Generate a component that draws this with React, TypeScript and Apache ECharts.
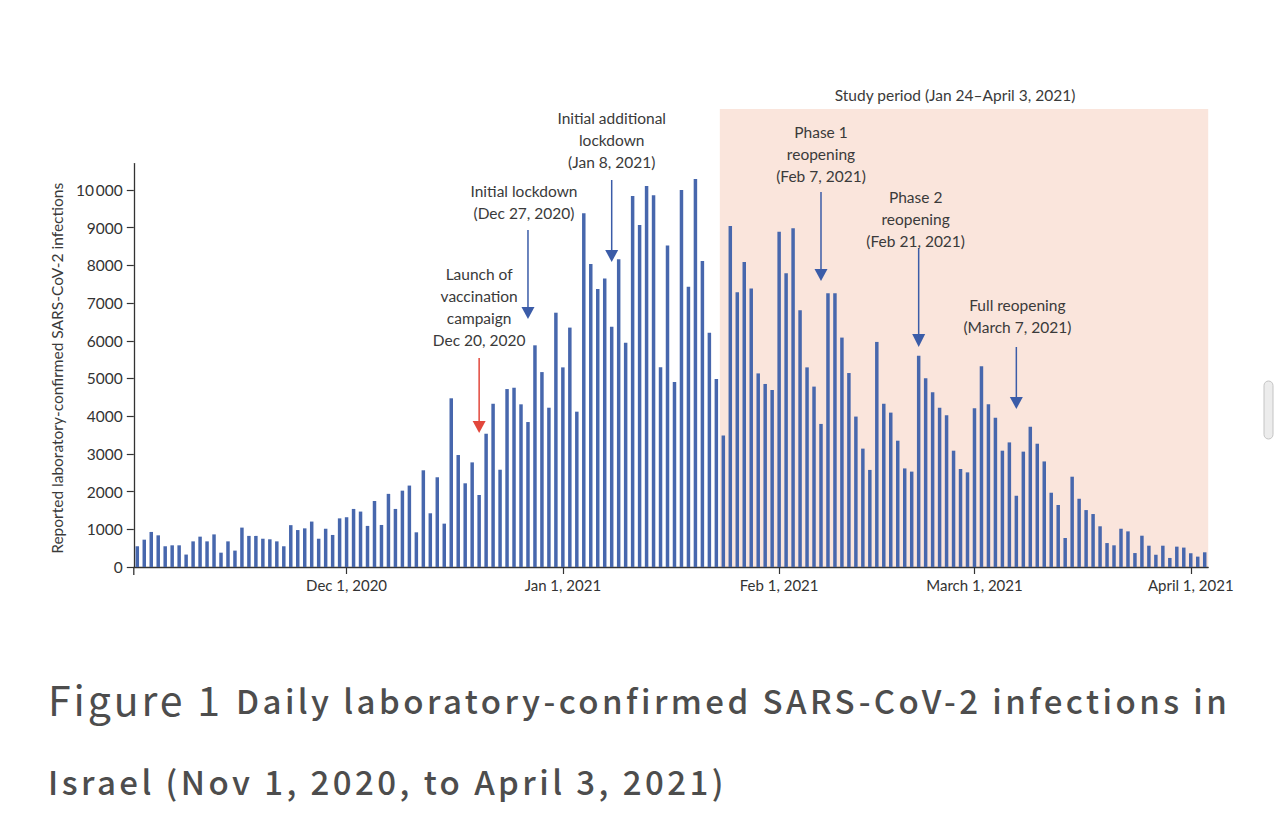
import React, { useEffect, useRef } from "react";
import * as echarts from "echarts";

// Daily laboratory-confirmed SARS-CoV-2 infections, Israel, Nov 1 2020 – Apr 3 2021
const novCases = [550, 725, 930, 840, 550, 575, 575, 330, 680, 805, 680, 865, 380, 680, 435, 1045, 825, 825, 750, 735, 680, 550, 1110, 980, 1025, 1205, 750, 1015, 850, 1290];
const decCases = [1320, 1540, 1470, 1090, 1750, 1115, 1940, 1540, 2025, 2160, 920, 2565, 1425, 2380, 1150, 4475, 2970, 2220, 2775, 1910, 3535, 4330, 2580, 4720, 4755, 4315, 3845, 5880, 5170, 4225, 6745];
const janCases = [5295, 6350, 4120, 9380, 8035, 7375, 7655, 6375, 8160, 5950, 9840, 9070, 10105, 9860, 5295, 8525, 4905, 10000, 7435, 10290, 8115, 6215, 4985, 3490, 9045, 7285, 8090, 7385, 5135, 4855, 4695];
const febCases = [8895, 7790, 8985, 6810, 5295, 4785, 3795, 7260, 7260, 6085, 5145, 3990, 3140, 2575, 5970, 4330, 4095, 3350, 2615, 2530, 5600, 5005, 4635, 4225, 4025, 3085, 2600, 2510];
const marCases = [4210, 5325, 4315, 3960, 3085, 3305, 1890, 3060, 3720, 3270, 2800, 1970, 1645, 770, 2395, 1810, 1510, 1405, 1080, 635, 575, 1015, 945, 370, 830, 565, 325, 565, 240, 540, 515];
const aprCases = [365, 275, 390];

const monthBlocks = [
  { year: 2020, month: 11, values: novCases },
  { year: 2020, month: 12, values: decCases },
  { year: 2021, month: 1, values: janCases },
  { year: 2021, month: 2, values: febCases },
  { year: 2021, month: 3, values: marCases },
  { year: 2021, month: 4, values: aprCases },
];

const pad = (n: number) => (n < 10 ? "0" + n : "" + n);
const categories: string[] = [];
const dailyCases: number[] = [];
monthBlocks.forEach((b) => {
  b.values.forEach((v, i) => {
    categories.push(`${b.year}-${pad(b.month)}-${pad(i + 1)}`);
    dailyCases.push(v);
  });
});

const xTickLabels: Record<string, string> = {
  "2020-12-01": "Dec 1, 2020",
  "2021-01-01": "Jan 1, 2021",
  "2021-02-01": "Feb 1, 2021",
  "2021-03-01": "March 1, 2021",
  "2021-04-01": "April 1, 2021",
};
const yTickValues = [0, 1000, 2000, 3000, 4000, 5000, 6000, 7000, 8000, 9000, 10000];

const studyStart = "2021-01-24";
const studyEnd = "2021-04-03";
const studyLabel = "Study period (Jan 24\u2013April 3, 2021)";

const events = [
  { date: "2020-12-20", lines: ["Launch of", "vaccination", "campaign", "Dec 20, 2020"], kind: "vaccine" },
  { date: "2020-12-27", lines: ["Initial lockdown", "(Dec 27, 2020)"], kind: "policy" },
  { date: "2021-01-08", lines: ["Initial additional", "lockdown", "(Jan 8, 2021)"], kind: "policy" },
  { date: "2021-02-07", lines: ["Phase 1", "reopening", "(Feb 7, 2021)"], kind: "policy" },
  { date: "2021-02-21", lines: ["Phase 2", "reopening", "(Feb 21, 2021)"], kind: "policy" },
  { date: "2021-03-07", lines: ["Full reopening", "(March 7, 2021)"], kind: "policy" },
];

const yAxisTitle = "Reported laboratory-confirmed SARS-CoV-2 infections";
const captionHead = "Figure 1";
const captionLine1 = "Daily laboratory-confirmed SARS-CoV-2 infections in";
const captionLine2 = "Israel (Nov 1, 2020, to April 3, 2021)";

// layout (pixels) for annotations
const eventLayout: Record<string, { textY: number; lineTop: number; headTop: number; tip: number; dx: number }> = {
  "2020-12-20": { textY: 274, lineTop: 358, headTop: 421, tip: 433, dx: 0 },
  "2020-12-27": { textY: 191, lineTop: 230, headTop: 307, tip: 319, dx: -4 },
  "2021-01-08": { textY: 118, lineTop: 180, headTop: 250, tip: 262, dx: 0 },
  "2021-02-07": { textY: 132, lineTop: 192, headTop: 269, tip: 281, dx: 0 },
  "2021-02-21": { textY: 197, lineTop: 248, headTop: 334, tip: 347, dx: -3 },
  "2021-03-07": { textY: 305, lineTop: 347, headTop: 397, tip: 409, dx: 1 },
};

const AXIS = "#333333";
const BAR = "#4767ad";
const BLUE_ARROW = "#3b5ca8";
const RED_ARROW = "#e2473c";
const SHADE = "#fae5dc";
const TXT = "#3a3a3a";
const LATO = "Lato, 'Noto Sans', sans-serif";
const CJK = "'Noto Sans CJK JP', 'Noto Sans', sans-serif";

export default function App() {
  const ref = useRef<HTMLDivElement>(null);

  useEffect(() => {
    if (!ref.current) return;
    const chart = echarts.init(ref.current, null, { renderer: "svg" });
    chart.setOption({
      animation: false,
      backgroundColor: "#ffffff",
      grid: { left: 133.8, right: 73.8, top: 163.6, bottom: 260, containLabel: false },
      xAxis: {
        type: "category",
        data: categories,
        boundaryGap: true,
        axisLine: { show: true, lineStyle: { color: AXIS, width: 1.3 } },
        axisTick: {
          show: true,
          alignWithLabel: true,
          interval: (_i: number, v: string) => !!xTickLabels[v],
          length: 7,
          lineStyle: { color: AXIS, width: 1.2 },
        },
        axisLabel: {
          interval: (_i: number, v: string) => !!xTickLabels[v],
          formatter: (v: string) => xTickLabels[v] || "",
          color: AXIS,
          fontFamily: LATO,
          fontSize: 15,
          margin: 10,
        },
        splitLine: { show: false },
      },
      yAxis: {
        type: "value",
        min: 0,
        max: 10700,
        interval: 1000,
        axisLine: { show: true, lineStyle: { color: AXIS, width: 1.3 } },
        axisTick: { show: true, length: 7, customValues: yTickValues, lineStyle: { color: AXIS, width: 1.2 } },
        axisLabel: {
          customValues: yTickValues,
          formatter: (v: number) => (v >= 10000 ? "10\u2009000" : String(v)),
          color: AXIS,
          fontFamily: LATO,
          fontSize: 15.5,
          margin: 11,
        },
        splitLine: { show: false },
      },
      series: [
        {
          type: "bar",
          data: dailyCases,
          barWidth: "50%",
          itemStyle: { color: BAR },
          z: 2,
        },
      ],
    });

    const toPx = (cat: string, val: number) => chart.convertToPixel({ gridIndex: 0 }, [cat, val]) as number[];
    const p0 = toPx(categories[0], 0);
    const p1 = toPx(categories[1], 0);
    const band = p1[0] - p0[0];
    const baseY = p0[1];
    const sStart = toPx(studyStart, 0)[0] - band / 2;
    const sEnd = toPx(studyEnd, 0)[0] + band / 2;

    const text = (t: string, x: number, y: number, o: any = {}) => ({
      type: "text",
      x,
      y,
      z: 20,
      rotation: o.rotation || 0,
      style: {
        text: t,
        fill: o.fill || TXT,
        fontFamily: o.fontFamily || LATO,
        fontSize: o.fontSize || 15.5,
        fontWeight: o.fontWeight || "normal",
        align: o.align || "center",
        textAlign: o.align || "center",
        verticalAlign: "middle",
        textVerticalAlign: "middle",
      },
    });

    const graphics: any[] = [];
    graphics.push({
      type: "rect",
      z: -5,
      shape: { x: sStart, y: 109, width: sEnd - sStart, height: baseY - 109 },
      style: { fill: SHADE },
    });
    graphics.push(text(studyLabel, (sStart + sEnd) / 2 - 9, 95));
    graphics.push({
      type: "line",
      z: 5,
      shape: { x1: p0[0] - band / 2, y1: baseY, x2: p0[0] - band / 2, y2: baseY + 8 },
      style: { stroke: AXIS, lineWidth: 1.3 },
    });

    events.forEach((ev) => {
      const lay = eventLayout[ev.date];
      const x = toPx(ev.date, 0)[0];
      const color = ev.kind === "vaccine" ? RED_ARROW : BLUE_ARROW;
      ev.lines.forEach((ln, i) => {
        graphics.push(text(ln, x + lay.dx, lay.textY + i * 22));
      });
      graphics.push({
        type: "line",
        z: 15,
        shape: { x1: x, y1: lay.lineTop, x2: x, y2: lay.headTop + 2 },
        style: { stroke: color, lineWidth: 1.5 },
      });
      graphics.push({
        type: "polygon",
        z: 15,
        shape: { points: [[x - 6.5, lay.headTop], [x + 6.5, lay.headTop], [x, lay.tip]] },
        style: { fill: color },
      });
    });

    graphics.push(text(yAxisTitle, 57, (baseY + 163.6) / 2 + 3, { rotation: Math.PI / 2, fontSize: 15.5 }));

    graphics.push(text(captionHead, 48, 698, { align: "left", fontFamily: CJK, fontSize: 41, fill: "#4d4d4d" }));
    graphics.push(text(captionLine1, 236, 700, { align: "left", fontFamily: CJK, fontSize: 33, fill: "#4d4d4d", fontWeight: 500 }));
    graphics.push(text(captionLine2, 48, 781, { align: "left", fontFamily: CJK, fontSize: 33, fill: "#4d4d4d", fontWeight: 500 }));

    graphics.push({
      type: "rect",
      z: 30,
      shape: { x: 1264, y: 381, width: 9, height: 58, r: 4.5 },
      style: { fill: "#ececec", stroke: "#c4c4c4", lineWidth: 1 },
    });

    chart.setOption({ graphic: graphics });

    return () => chart.dispose();
  }, []);

  return (
    <>
      <style>{`#fig text[style*="33px"] { letter-spacing: 0.104em; } #fig text[style*="41px"] { letter-spacing: 0.07em; }`}</style>
      <div
        id="fig"
        ref={ref}
        style={{ position: "absolute", left: 0, top: 0, width: 1282, height: 827, background: "#fff" }}
      />
    </>
  );
}
